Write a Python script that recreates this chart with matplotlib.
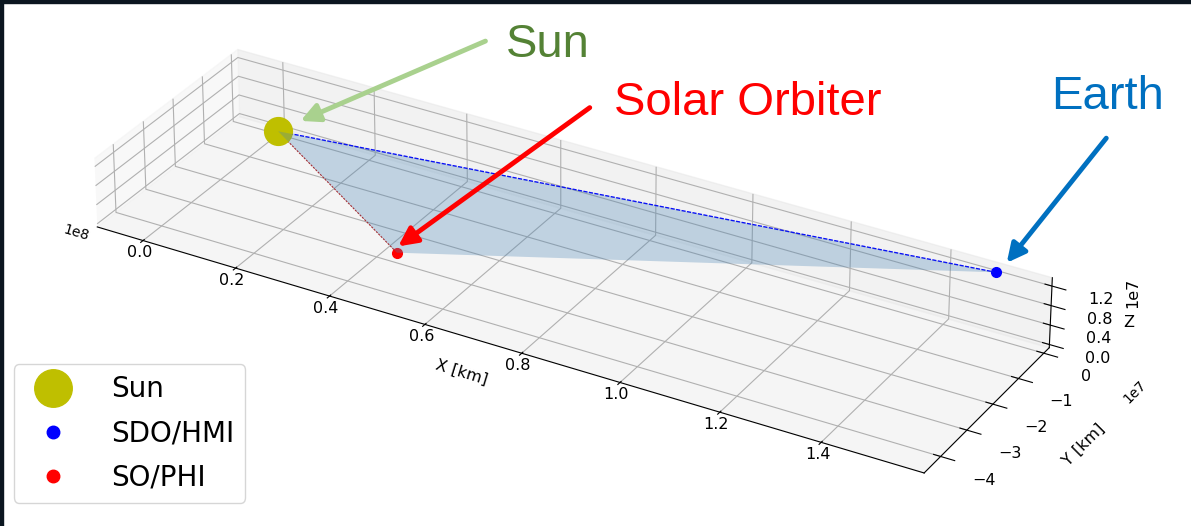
import numpy as np
import matplotlib.pyplot as plt
from matplotlib.patches import Rectangle, FancyArrowPatch
from mpl_toolkits.mplot3d.art3d import Poly3DCollection

# positions in km (Sun at origin)
names = ['Sun', 'SDO/HMI', 'SO/PHI']
pos_x = [0.0, 1.50e8, 0.53e8]
pos_y = [0.0, 0.0, -4.4e7]
pos_z = [0.0, 1.3e7, 1.1e7]
colors = ['y', 'b', 'r']
msizes = [20, 7, 7]

xticks = [0.0, 0.2e8, 0.4e8, 0.6e8, 0.8e8, 1.0e8, 1.2e8, 1.4e8]
yticks = [-4e7, -3e7, -2e7, -1e7, 0]
zticks = [0.0, 0.4e7, 0.8e7, 1.2e7]

xlim = (-0.1e8, 1.60e8)
ylim = (-4.62e7, 0.22e7)
zlim = (-0.065e7, 1.37e7)

W, H = 1191, 526
fig = plt.figure(figsize=(W / 100, H / 100), dpi=100)
# square axes wider than the figure so nothing gets clipped
ax = fig.add_axes([-0.0386, -0.6415, 1, W / H], projection='3d')

# shaded triangle Sun - SO - Earth
tri = [list(zip(pos_x, pos_y, pos_z))]
ax.add_collection3d(Poly3DCollection(tri, facecolor='steelblue', alpha=0.3, edgecolor='none'))

# lines of sight
ax.plot([pos_x[0], pos_x[1]], [pos_y[0], pos_y[1]], [pos_z[0], pos_z[1]], 'b--', lw=1, dashes=(3, 1))
ax.plot([pos_x[0], pos_x[2]], [pos_y[0], pos_y[2]], [pos_z[0], pos_z[2]], color='firebrick', ls='--', lw=0.8, dashes=(2, 1))

for i in range(3):
    ax.plot([pos_x[i]], [pos_y[i]], [pos_z[i]], 'o', color=colors[i], ms=msizes[i], label=names[i])

ax.set_xlim(*xlim)
ax.set_ylim(*ylim)
ax.set_zlim(*zlim)
ax.set_box_aspect((xlim[1] - xlim[0], ylim[1] - ylim[0], zlim[1] - zlim[0]), zoom=0.805)
ax.set_xticks(xticks)
ax.set_yticks(yticks)
ax.set_zticks(zticks)
ax.tick_params(labelsize=11.5)
ax.tick_params(axis='y', pad=14)
ax.tick_params(axis='z', pad=14)
ax.set_xlabel('')
ax.set_ylabel('Y [km]', fontsize=11.5, labelpad=28)
ax.set_zlabel('Z', fontsize=11.5, labelpad=14)
ax.zaxis.get_offset_text().set_visible(False)
ax.view_init(elev=30, azim=-60)

# x label and z offset placed by hand, as in the original
fig.text(462 / W, 1 - 372 / H, 'X [km]', fontsize=11.5, rotation=-17, ha='center', va='center')
fig.text(1133 / W, 1 - 293 / H, '1e7', fontsize=11.5, rotation=90, ha='center', va='center')

leg = ax.legend(loc='lower left', bbox_to_anchor=(0.0, 0.018), bbox_transform=fig.transFigure,
                fontsize=20, borderpad=0.4, labelspacing=0.58, handletextpad=1.1)
leg.legend_handles[0].set_markersize(27)
leg.legend_handles[1].set_markersize(9)
leg.legend_handles[2].set_markersize(9)

# annotations
fig.text(0.46, 0.915, 'Sun', color='#548235', fontsize=34, family='Liberation Sans', ha='center', va='center')
fig.text(0.628, 0.805, 'Solar Orbiter', color='red', fontsize=34, family='Liberation Sans', ha='center', va='center')
fig.text(0.93, 0.815, 'Earth', color='#0070C0', fontsize=34, family='Liberation Sans', ha='center', va='center')

def arrow(x0, y0, x1, y1, c):
    fig.add_artist(FancyArrowPatch((x0 / W, 1 - y0 / H), (x1 / W, 1 - y1 / H), transform=fig.transFigure,
                                   arrowstyle='-|>', mutation_scale=28, lw=3.5, color=c))

arrow(488, 40, 298, 122, '#A9D18E')
arrow(592, 106, 396, 248, 'red')
arrow(1108, 136, 1005, 265, '#0070C0')

# dark frame on top and left
fig.add_artist(Rectangle((0, 1 - 3 / H), 1, 3 / H, transform=fig.transFigure, color='#0b1620'))
fig.add_artist(Rectangle((0, 0), 3 / W, 1, transform=fig.transFigure, color='#0b1620'))

fig.savefig('out.png', dpi=100)
